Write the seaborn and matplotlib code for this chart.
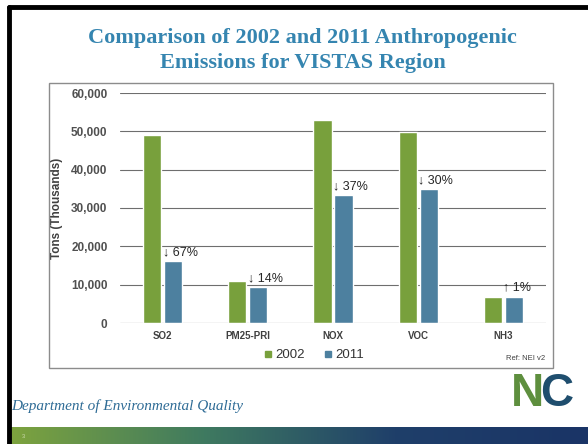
import numpy as np
import pandas as pd
import matplotlib
matplotlib.use("Agg")
import matplotlib.pyplot as plt
import seaborn as sns
from matplotlib.patches import Rectangle
from matplotlib.lines import Line2D

# data (thousands of tons)
pollutants = ["SO2", "PM25-PRI", "NOX", "VOC", "NH3"]
years = ["2002", "2011"]
emis_2002 = [49000, 11000, 53000, 49900, 6800]
emis_2011 = [16200, 9450, 33400, 35000, 6900]
change_labels = ["\u2193 67%", "\u2193 14%", "\u2193 37%", "\u2193 30%", "\u2191 1%"]
yticks = [0, 10000, 20000, 30000, 40000, 50000, 60000]

green = "#78A03C"
blue = "#4D809F"
title_col = "#3585B0"

df = pd.DataFrame({
    "pollutant": pollutants * 2,
    "year": ["2002"] * len(pollutants) + ["2011"] * len(pollutants),
    "tons": emis_2002 + emis_2011,
})

sns.set_theme(style="white")
plt.rcParams["font.family"] = ["Liberation Sans", "DejaVu Sans"]

fig = plt.figure(figsize=(5.88, 4.44), dpi=100)
W, H = 588, 444

def fx(px):
    return px / W

def fy(py):
    return 1 - py / H

# slide frame (black edge on left and top)
fig.add_artist(Line2D([fx(9), fx(9)], [fy(7), 0], color="black", lw=3.5, transform=fig.transFigure))
fig.add_artist(Line2D([fx(9), 1], [fy(7), fy(7)], color="black", lw=3.5, transform=fig.transFigure))

# chart box
fig.add_artist(Rectangle((fx(49), fy(368)), fx(553 - 49), (368 - 83) / H,
                         transform=fig.transFigure, fill=False, edgecolor="#8c8c8c", lw=1.0))

# title
fig.text(0.515, fy(38), "Comparison of 2002 and 2011 Anthropogenic", ha="center", va="center",
         fontsize=16, fontweight="bold", color=title_col, family=["Liberation Serif"])
fig.text(0.515, fy(63), "Emissions for VISTAS Region", ha="center", va="center",
         fontsize=16, fontweight="bold", color=title_col, family=["Liberation Serif"])

ax = fig.add_axes([fx(120), fy(323), fx(546 - 120), (323 - 93) / H])
sns.barplot(data=df, x="pollutant", y="tons", hue="year", order=pollutants, hue_order=years,
            palette=[green, blue], width=0.49, gap=0.13, saturation=1, ax=ax, legend=False)

ax.set_ylim(0, 60000)
ax.set_yticks(yticks)
ax.set_yticklabels([f"{v:,}" for v in yticks])
ax.yaxis.grid(True, color="#6e6e6e", lw=0.8)
ax.set_axisbelow(True)
for s in ax.spines.values():
    s.set_visible(False)
ax.axhline(0, color="#c8c8c8", lw=0.8)
ax.tick_params(axis="y", length=0, pad=9, labelsize=8.5, labelcolor="#505050")
ax.tick_params(axis="x", length=0, pad=6, labelsize=7, labelcolor="#404040")
for lab in ax.get_xticklabels() + ax.get_yticklabels():
    lab.set_fontweight("bold")
ax.set_xlabel("")
ax.set_ylabel("Tons (Thousands)", fontsize=8.5, fontweight="bold", color="#404040", labelpad=6)

# percent change labels above the 2011 bars
for bar, txt in zip(ax.containers[1], change_labels):
    ax.annotate(txt, (bar.get_x(), bar.get_height()), xytext=(-1, 2), textcoords="offset points",
                ha="left", va="bottom", fontsize=9, color="#262626")

# legend
handles = [Line2D([], [], marker="s", ls="", color=c, markersize=5) for c in [green, blue]]
fig.legend(handles, years, loc="center", bbox_to_anchor=(fx(314), fy(355)), ncol=2, frameon=False,
           fontsize=9.5, handlelength=0.6, handletextpad=0.25, columnspacing=1.4, labelcolor="#333333")
fig.text(fx(545), fy(359), "Ref: NEI v2", ha="right", va="center", fontsize=5.5, color="#404040")

# footer
fig.text(fx(11), fy(406), "Department of Environmental Quality", ha="left", va="center",
         fontsize=11, style="italic", color="#2F6C96", family=["Liberation Serif"])
fig.text(fx(527), fy(394), "N", ha="center", va="center", fontsize=33, fontweight="bold",
         color="#5E8F3E", family=["Liberation Sans"])
fig.text(fx(557), fy(394), "C", ha="center", va="center", fontsize=33, fontweight="bold",
         color="#1F4E6E", family=["Liberation Sans"])

# bottom gradient band
band = fig.add_axes([fx(11), 0, 1 - fx(11), (444 - 427) / H])
grad = np.linspace(0, 1, 256)[None, :]
cmap = matplotlib.colors.LinearSegmentedColormap.from_list("band", ["#7DA33E", "#3F7A60", "#1F3F6A", "#1A3466"])
band.imshow(grad, aspect="auto", cmap=cmap, extent=[0, 1, 0, 1])
band.set_axis_off()
fig.text(fx(22), fy(436), "3", fontsize=4, color="#cfdcb0", va="center")

fig.savefig("out.png", dpi=100)
